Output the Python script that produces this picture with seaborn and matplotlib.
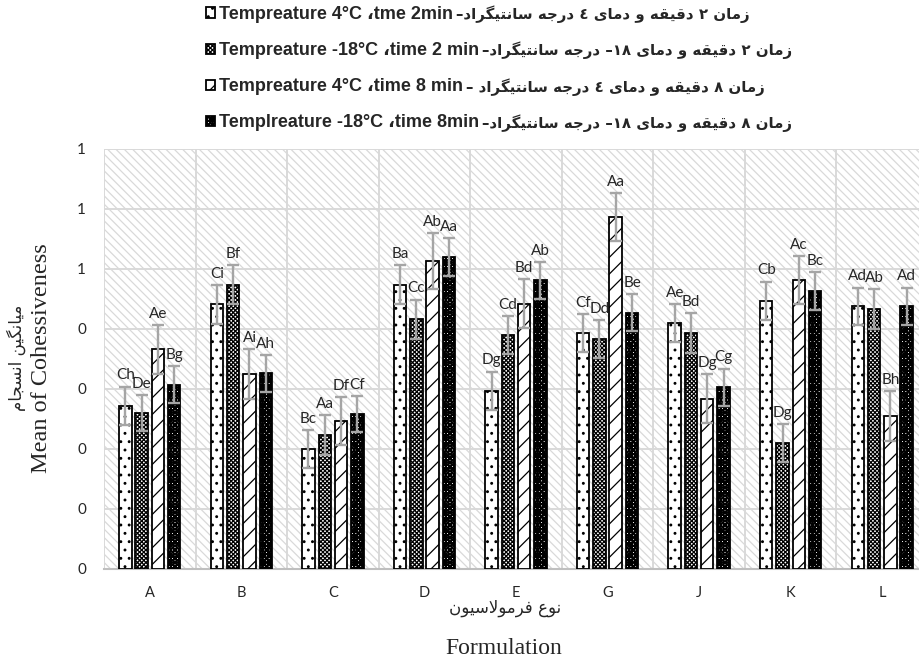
import re
import pandas as pd
import seaborn as sns
import matplotlib.pyplot as plt
from matplotlib.font_manager import FontProperties

# ---- data ----
formulations = ['A', 'B', 'C', 'D', 'E', 'G', 'J', 'K', 'L']

series_en = ['Tempreature 4°C ،tme 2min',
             'Tempreature -18°C ،time 2 min',
             'Tempreature 4°C ،time 8 min',
             'Templreature -18°C ،time 8min']
series_fa = ['زمان ۲ دقیقه و دمای ٤ درجه سانتیگراد–',
             'زمان ۲ دقیقه و دمای ۱۸– درجه سانتیگراد–',
             'زمان ۸ دقیقه و دمای ٤ درجه سانتیگراد –',
             'زمان ۸ دقیقه و دمای ۱۸– درجه سانتیگراد–']

mean_4c_2min = [0.272, 0.441, 0.200, 0.474, 0.297, 0.393, 0.410, 0.447, 0.438]
mean_m18_2min = [0.260, 0.474, 0.223, 0.416, 0.390, 0.383, 0.393, 0.210, 0.433]
mean_4c_8min = [0.366, 0.325, 0.246, 0.513, 0.442, 0.587, 0.284, 0.482, 0.255]
mean_m18_8min = [0.307, 0.326, 0.258, 0.520, 0.481, 0.427, 0.303, 0.463, 0.438]

err_4c_2min = [0.032, 0.032, 0.032, 0.032, 0.032, 0.032, 0.032, 0.032, 0.031]
err_m18_2min = [0.030, 0.033, 0.033, 0.033, 0.032, 0.032, 0.033, 0.032, 0.033]
err_4c_8min = [0.041, 0.041, 0.040, 0.047, 0.041, 0.040, 0.041, 0.040, 0.042]
err_m18_8min = [0.031, 0.031, 0.030, 0.031, 0.031, 0.031, 0.031, 0.032, 0.031]

letters_4c_2min = ['Ch', 'Ci', 'Bc', 'Ba', 'Dg', 'Cf', 'Ae', 'Cb', 'Ad']
letters_m18_2min = ['De', 'Bf', 'Aa', 'Cc', 'Cd', 'Dd', 'Bd', 'Dg', 'Ab']
letters_4c_8min = ['Ae', 'Ai', 'Df', 'Ab', 'Bd', 'Aa', 'Dg', 'Ac', 'Bh']
letters_m18_8min = ['Bg', 'Ah', 'Cf', 'Aa', 'Ab', 'Be', 'Cg', 'Bc', 'Ad']

y_ticks = [0, 0.1, 0.2, 0.3, 0.4, 0.5, 0.6, 0.7]
y_ticklabels = ['0', '0', '0', '0', '0', '1', '1', '1']   # excel rounded the labels

ylabel_en = 'Mean of Cohessiveness'
ylabel_fa = 'میانگین انسجام'
xlabel_en = 'Formulation'
xlabel_fa = 'نوع فرمولاسیون'

means = [mean_4c_2min, mean_m18_2min, mean_4c_8min, mean_m18_8min]
errs = [err_4c_2min, err_m18_2min, err_4c_8min, err_m18_8min]
letters = [letters_4c_2min, letters_m18_2min, letters_4c_8min, letters_m18_8min]
hatches = ['..', 'xxxxxxxx', '//', 'xxxxxxxx++++++']

# matplotlib has no arabic shaping, so pick presentation forms by hand
# forms: isolated, final, initial, medial (None = joins only to the right)
AR_FORMS = {
    'ا': ('\ufe8d', '\ufe8e', None, None),
    'ت': ('\ufe95', '\ufe96', '\ufe97', '\ufe98'),
    'ج': ('\ufe9d', '\ufe9e', '\ufe9f', '\ufea0'),
    'د': ('\ufea9', '\ufeaa', None, None),
    'ر': ('\ufead', '\ufeae', None, None),
    'ز': ('\ufeaf', '\ufeb0', None, None),
    'س': ('\ufeb1', '\ufeb2', '\ufeb3', '\ufeb4'),
    'ع': ('\ufec9', '\ufeca', '\ufecb', '\ufecc'),
    'ف': ('\ufed1', '\ufed2', '\ufed3', '\ufed4'),
    'ق': ('\ufed5', '\ufed6', '\ufed7', '\ufed8'),
    'ل': ('\ufedd', '\ufede', '\ufedf', '\ufee0'),
    'م': ('\ufee1', '\ufee2', '\ufee3', '\ufee4'),
    'ن': ('\ufee5', '\ufee6', '\ufee7', '\ufee8'),
    'ه': ('\ufee9', '\ufeea', '\ufeeb', '\ufeec'),
    'و': ('\ufeed', '\ufeee', None, None),
    'ی': ('\ufbfc', '\ufbfd', '\ufbfe', '\ufbff'),
    'گ': ('\ufb92', '\ufb93', '\ufb94', '\ufb95'),
}


def persian(text):
    out = []
    i = 0
    while i < len(text):
        ch = text[i]
        forms = AR_FORMS.get(ch)
        if forms is None:
            out.append(ch)
            i += 1
            continue
        prev = text[i - 1] if i > 0 else ''
        joins_prev = prev in AR_FORMS and AR_FORMS[prev][2] is not None
        if ch == 'ل' and text[i + 1:i + 2] == 'ا':
            out.append('\ufefc' if joins_prev else '\ufefb')
            i += 2
            continue
        nxt = text[i + 1] if i + 1 < len(text) else ''
        joins_next = forms[2] is not None and nxt in AR_FORMS
        idx = [[0, 2], [1, 3]][joins_prev][joins_next]
        out.append(forms[idx])
        i += 1
    vis = ''.join(reversed(out))
    # digits keep left-to-right order
    return re.sub(r'[0-9\u0660-\u0669\u06f0-\u06f9]+', lambda m: m.group()[::-1], vis)


df = pd.DataFrame({
    'formulation': formulations * 4,
    'series': [s for s in series_en for _ in formulations],
    'value': sum(means, []),
})

sns.set_style('white')
plt.rcParams['font.family'] = ['Lato', 'DejaVu Sans']
plt.rcParams['hatch.linewidth'] = 0.9

fig = plt.figure(figsize=(9.2, 6.67), dpi=100)
ax = fig.add_axes([104 / 920, 1 - 569 / 667, 824 / 920, 420 / 667])

# hatched plot area like the excel chart
ax.patch.set_facecolor('white')
ax.patch.set_hatch('\\\\\\\\')
ax.patch.set_edgecolor('#d9d9d9')

sns.barplot(data=df, x='formulation', y='value', hue='series', hue_order=series_en,
            palette=['white'] * 4, saturation=1, edgecolor='black', linewidth=1.3,
            width=0.712, gap=0.236, errorbar=None, legend=False, ax=ax, zorder=3)
bar_conts = list(ax.containers)

for cont, hatch, err, labs in zip(bar_conts, hatches, errs, letters):
    xs, tops = [], []
    for bar in cont.patches:
        bar.set_hatch(hatch)
        xs.append(bar.get_x() + bar.get_width() / 2)
        tops.append(bar.get_height())
    ax.errorbar(xs, tops, yerr=err, fmt='none', ecolor='#a5a5a5', elinewidth=1.7,
                capsize=4.3, capthick=1.7, zorder=4)
    for x, top, e, lab in zip(xs, tops, err, labs):
        ax.annotate(lab, (x, top + e), xytext=(0, 3), textcoords='offset points',
                    ha='center', va='bottom', fontsize=11, color='#262626', zorder=5)

ax.set_ylim(0, 0.7)
ax.set_xlim(-0.5, len(formulations) - 0.5)
ax.set_yticks(y_ticks)
ax.set_yticklabels(y_ticklabels)
ax.set_xticks(range(len(formulations)))
ax.set_xticklabels(formulations)
ax.set_xticks([i - 0.5 for i in range(len(formulations) + 1)], minor=True)
ax.tick_params(axis='y', length=0, pad=13, labelsize=11, labelcolor='#262626')
ax.tick_params(axis='x', which='both', length=0, pad=12, labelsize=10.5, labelcolor='#262626')
ax.grid(axis='y', color='#d9d9d9', linewidth=1.4, zorder=1)
ax.grid(axis='x', which='minor', color='#d9d9d9', linewidth=1.4, zorder=1)
ax.grid(axis='x', which='major', visible=False)
ax.set_axisbelow(True)
ax.set_xlabel('')
ax.set_ylabel('')
for side in ['top', 'right', 'left']:
    ax.spines[side].set_visible(False)
ax.spines['bottom'].set_color('#bfbfbf')
ax.spines['bottom'].set_linewidth(1.5)

# axis titles, english and persian
fig.text(42 / 920, 1 - 358 / 667, ylabel_en, rotation=90, ha='center', va='center',
         family='Liberation Serif', fontsize=17.5)
fig.text(16 / 920, 1 - 358 / 667, persian(ylabel_fa), rotation=90, ha='center', va='center',
         family='DejaVu Sans', fontsize=12)
fig.text(505 / 920, 1 - 608 / 667, persian(xlabel_fa), ha='center', va='center',
         family='DejaVu Sans', fontsize=12)
fig.text(504 / 920, 1 - 648 / 667, xlabel_en, ha='center', va='center',
         family='Liberation Serif', fontsize=17)

# legend: english part through matplotlib, persian part appended after it
handles = [c.patches[0] for c in bar_conts]
leg = fig.legend(handles, series_en, loc='upper left', bbox_to_anchor=(206 / 920, 1 - 6 / 667),
                 frameon=False, prop=FontProperties(family=['Liberation Sans', 'DejaVu Sans'],
                                                    weight='bold', size=13),
                 handlelength=0.5, handleheight=0.5, handletextpad=0.2,
                 labelspacing=1.06, borderpad=0, borderaxespad=0)

fig.canvas.draw()
for txt, fa in zip(leg.get_texts(), series_fa):
    bb = txt.get_window_extent()
    fig.text((bb.x1 + 3) / fig.bbox.width, (bb.y0 + bb.y1) / 2 / fig.bbox.height, persian(fa),
             ha='left', va='center', family='DejaVu Sans', fontsize=10.8, fontweight='bold')

fig.savefig('out.png', dpi=100)
